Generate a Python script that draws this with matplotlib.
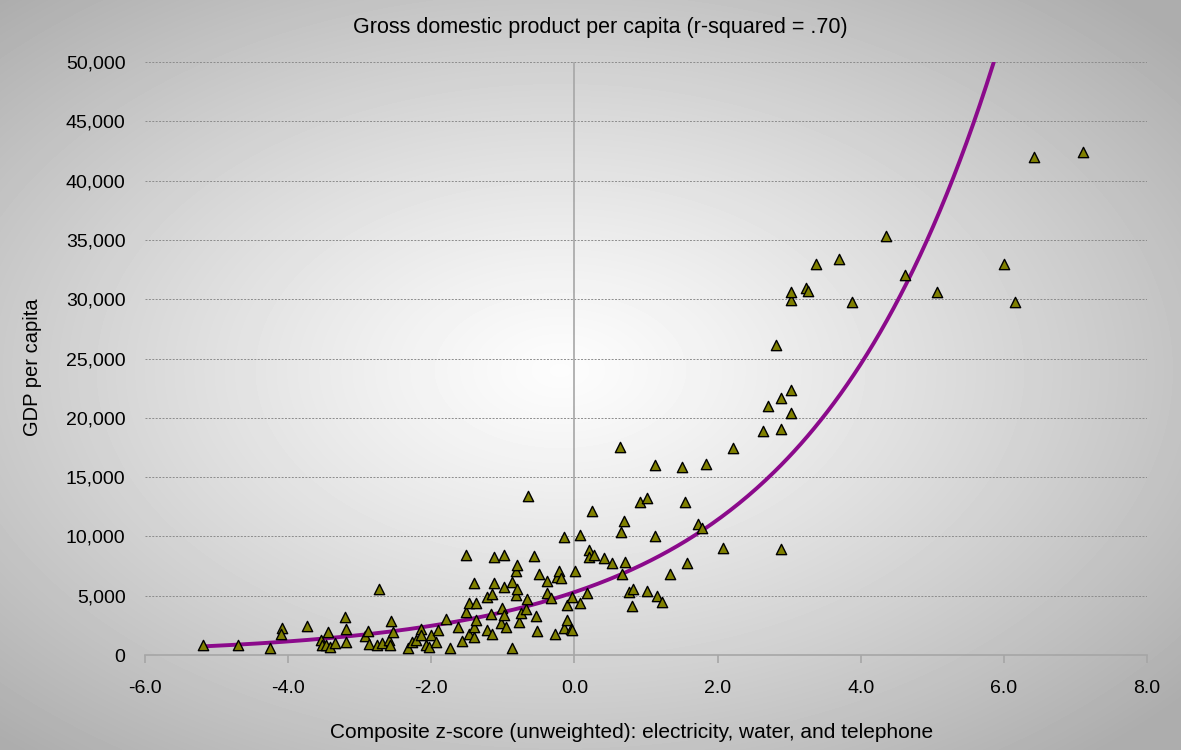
import matplotlib
matplotlib.use('Agg')
import matplotlib.pyplot as plt
from matplotlib.ticker import FuncFormatter, MultipleLocator
import numpy as np

# composite z-score vs GDP per capita
zscore = [-5.19, -4.70, -4.26, -4.09, -4.10, -3.73, -3.54, -3.52, -3.47, -3.45,
          -3.42, -3.34, -3.20, -3.19, -3.19, -2.93, -2.89, -2.87, -2.76, -2.73,
          -2.69, -2.59, -2.58, -2.56, -2.54, -2.33, -2.27, -2.21, -2.14, -2.14,
          -2.07, -2.03, -2.00, -1.94, -1.91, -1.79, -1.74, -1.63, -1.57, -1.51,
          -1.51, -1.48, -1.47, -1.41, -1.41, -1.40, -1.38, -1.37, -1.22, -1.22,
          -1.16, -1.15, -1.15, -1.13, -1.13, -1.02, -1.01, -0.99, -0.99, -0.98,
          -0.95, -0.87, -0.87, -0.82, -0.82, -0.80, -0.80, -0.78, -0.74, -0.67,
          -0.66, -0.65, -0.56, -0.53, -0.52, -0.50, -0.38, -0.38, -0.33, -0.27,
          -0.25, -0.22, -0.19, -0.15, -0.15, -0.11, -0.10, -0.05, -0.03, -0.03,
          0.01, 0.08, 0.08, 0.18, 0.20, 0.21, 0.25, 0.27, 0.42, 0.53,
          0.64, 0.65, 0.67, 0.69, 0.71, 0.76, 0.81, 0.82, 0.92, 1.01,
          1.02, 1.13, 1.13, 1.15, 1.23, 1.34, 1.50, 1.54, 1.57, 1.72,
          1.78, 1.84, 2.08, 2.22, 2.64, 2.70, 2.81, 2.88, 2.89, 2.89,
          3.02, 3.02, 3.03, 3.03, 3.23, 3.26, 3.38, 3.69, 3.88, 4.35,
          4.62, 5.07, 6.00, 6.16, 6.42, 7.11]
gdp = [840, 840, 560, 2250, 1770, 2440, 1260, 840, 840, 1970,
       650, 1040, 3180, 2190, 1120, 1600, 2050, 900, 840, 5540,
       990, 1260, 840, 2890, 1970, 560, 1120, 1260, 2170, 1690,
       840, 700, 1690, 1120, 2110, 3010, 560, 2390, 1210, 8430,
       3650, 1770, 4380, 6070, 1520, 2390, 4380, 2950, 4920, 2110,
       3460, 5140, 1770, 8230, 6070, 2720, 3960, 8430, 3370, 5760,
       2390, 6150, 620, 7100, 5060, 7590, 5560, 2810, 3540, 3880,
       4720, 13400, 8350, 3290, 2050, 6800, 6260, 5230, 4830, 1770,
       6600, 7080, 6490, 9970, 2300, 4220, 2950, 2200, 4920, 2110,
       7080, 10120, 4410, 5250, 8850, 8290, 12140, 8430, 8150, 7780,
       17510, 10400, 6830, 11320, 7870, 5280, 4130, 5540, 12920, 13200,
       5420, 16020, 10060, 5000, 4440, 6830, 15820, 12920, 7730, 11040,
       10680, 16100, 8990, 17420, 18910, 20990, 26130, 8940, 21640, 19030,
       29930, 20430, 30630, 22340, 30910, 30690, 32940, 33430, 29780, 35320,
       32040, 30630, 32940, 29780, 42000, 42430]

# exponential trendline y = a * exp(b*x)
trend_a = 5300
trend_b = 0.383

xticks = [-6, -4, -2, 0, 2, 4, 6, 8]

plt.rcParams['font.family'] = 'Liberation Sans'

fig = plt.figure(figsize=(11.81, 7.5), dpi=100)

# radial grey background
bg = fig.add_axes([0, 0, 1, 1])
W, H = 1181, 750
xx, yy = np.meshgrid(np.arange(W), np.arange(H))
r = np.sqrt(((xx - 560) / 680.0) ** 2 + ((yy - 370) / 420.0) ** 2)
shade = 0.99 - 0.25 * np.clip(r, 0, 1.2) ** 1.2
bg.imshow(shade, cmap='gray', vmin=0, vmax=1, aspect='auto', interpolation='bilinear')
bg.axis('off')

ax = fig.add_axes([145/1181, 1 - 655/750, (1147-145)/1181, (655-62)/750])
ax.set_facecolor('none')

ax.set_xlim(-6, 8)
ax.set_ylim(0, 50000)
ax.yaxis.set_major_locator(MultipleLocator(5000))
ax.set_xticks(xticks)
ax.yaxis.set_major_formatter(FuncFormatter(lambda v, p: '{:,.0f}'.format(v)))
ax.xaxis.set_major_formatter(FuncFormatter(lambda v, p: '%.1f' % v))

ax.grid(axis='y', color='#8c8c8c', linestyle=(0, (2, 1.5)), linewidth=0.7)
ax.set_axisbelow(True)
for s in ['top', 'right', 'left']:
    ax.spines[s].set_visible(False)
ax.spines['bottom'].set_color('#a6a6a6')
ax.spines['bottom'].set_linewidth(1.2)
ax.tick_params(axis='x', direction='out', length=6, color='#a6a6a6', width=1.2,
               labelsize=14, pad=12)
ax.tick_params(axis='y', length=0, labelsize=14, pad=14)
ax.axvline(0, color='#a6a6a6', linewidth=1.2, zorder=1)

xs = np.linspace(min(zscore), max(zscore), 400)
ax.plot(xs, trend_a * np.exp(trend_b * xs), color='#8b0a8b', linewidth=2.8, zorder=3)

ax.scatter(zscore, gdp, marker='^', s=55, facecolor='#808000', edgecolor='black',
           linewidth=1.0, zorder=4)

fig.text(600/1181, 1 - 28/750, 'Gross domestic product per capita (r-squared = .70)',
         fontsize=15.5, ha='center', va='center')
fig.text(33/1181, 1 - 367/750, 'GDP per capita', rotation=90, fontsize=14.5,
         ha='center', va='center')
fig.text(632/1181, 1 - 732/750,
         'Composite z-score (unweighted): electricity, water, and telephone',
         fontsize=15, ha='center', va='center')

fig.savefig('out.png', dpi=100)
plt.close()
